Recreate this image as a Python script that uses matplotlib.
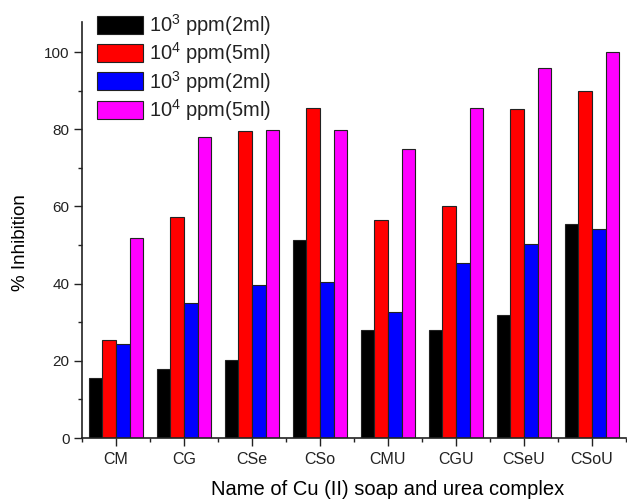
import numpy as np
import matplotlib
matplotlib.use("Agg")
import matplotlib.pyplot as plt
from matplotlib.ticker import MultipleLocator

plt.rcParams.update({
    "font.family": ["Liberation Sans", "DejaVu Sans"],
    "mathtext.fontset": "custom",
    "mathtext.rm": "Liberation Sans",
    "mathtext.it": "Liberation Sans:italic",
    "mathtext.bf": "Liberation Sans:bold",
    "text.color": "#222222", "xtick.color": "#222222", "ytick.color": "#222222",
    "axes.edgecolor": "#222222",
})

complexes = ["CM", "CG", "CSe", "CSo", "CMU", "CGU", "CSeU", "CSoU"]
soap_1e3 = [15.5, 17.9, 20.2, 51.3, 28.0, 28.0, 31.9, 55.4]
soap_1e4 = [25.4, 57.3, 79.6, 85.4, 56.5, 60.2, 85.2, 90.0]
urea_1e3 = [24.3, 35.0, 39.6, 40.3, 32.6, 45.4, 50.4, 54.2]
urea_1e4 = [51.9, 78.0, 79.8, 79.8, 75.0, 85.6, 95.8, 99.9]
series = [soap_1e3, soap_1e4, urea_1e3, urea_1e4]
labels = ["10$^3$ ppm(2ml)", "10$^4$ ppm(5ml)", "10$^3$ ppm(2ml)", "10$^4$ ppm(5ml)"]
colors = ["#000000", "#ff0000", "#0000ff", "#ff00ff"]

fig = plt.figure(figsize=(6.27, 5.01), dpi=100)
ax = fig.add_axes([82 / 627, 1 - 438 / 501, 544 / 627, 416 / 501])

x = np.arange(1, len(complexes) + 1)
w = 0.2
for i, (vals, lab, c) in enumerate(zip(series, labels, colors)):
    ax.bar(x + (i - 1.5) * w, vals, w, color=c, edgecolor="#222222", linewidth=0.8, label=lab)

ax.set_xlim(0.5, 8.5)
ax.set_ylim(0, 107.8)
ax.set_xticks(x)
ax.set_xticklabels(complexes)
ax.xaxis.set_minor_locator(MultipleLocator(1, offset=0.5))
ax.yaxis.set_major_locator(MultipleLocator(20))
ax.yaxis.set_minor_locator(MultipleLocator(10))
ax.tick_params(axis="both", which="major", direction="out", length=5.5, width=1, labelsize=11)
ax.tick_params(axis="x", which="major", labelsize=11.5, pad=4.5)
ax.tick_params(axis="both", which="minor", direction="out", length=3, width=1)
ax.spines["top"].set_visible(False)
ax.spines["right"].set_visible(False)
ax.spines["left"].set_linewidth(1.2)
ax.spines["bottom"].set_linewidth(1.2)

ax.set_ylabel("% Inhibition", fontsize=13.5)
ax.yaxis.set_label_coords(-0.097, 0.471)
ax.set_xlabel("Name of Cu (II) soap and urea complex", fontsize=14.5)
ax.xaxis.set_label_coords((388 - 82) / 544, -0.1)

ax.legend(loc="upper left", bbox_to_anchor=(97 / 627, 1 - 12 / 501), bbox_transform=fig.transFigure,
          frameon=False, fontsize=14.5, borderpad=0, borderaxespad=0,
          handlelength=2.3, handleheight=1.0, labelspacing=0.12, handletextpad=0.3)

fig.savefig("out.png", dpi=100)
